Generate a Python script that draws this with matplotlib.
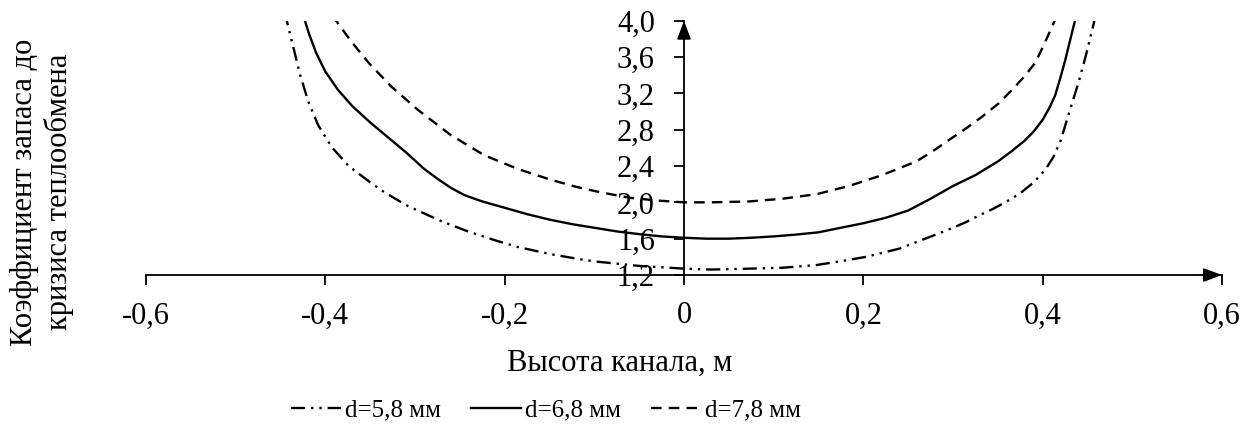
import numpy as np
import matplotlib.pyplot as plt

plt.rcParams['font.family'] = ['Liberation Serif', 'DejaVu Serif']

# d=5,8 mm
x58 = [-0.446, -0.443, -0.436, -0.428, -0.419, -0.408, -0.393, -0.374, -0.350, -0.334, -0.310,
       -0.297, -0.270, -0.241, -0.210, -0.186, -0.149, -0.120, -0.100, -0.050, 0.0, 0.030,
       0.073, 0.110, 0.148, 0.180, 0.203, 0.240, 0.277, 0.300, 0.314, 0.330, 0.345, 0.360,
       0.375, 0.390, 0.403, 0.412, 0.420, 0.429, 0.440, 0.448, 0.457, 0.459]
y58 = [4.10, 4.00, 3.72, 3.40, 3.11, 2.85, 2.61, 2.40, 2.22, 2.11, 1.97,
       1.91, 1.79, 1.68, 1.58, 1.51, 1.43, 1.38, 1.35, 1.30, 1.27, 1.26,
       1.27, 1.28, 1.31, 1.36, 1.40, 1.49, 1.63, 1.72, 1.78, 1.86, 1.93, 2.01,
       2.10, 2.22, 2.36, 2.50, 2.68, 2.97, 3.32, 3.61, 3.97, 4.10]

# d=6,8 mm
x68 = [-0.426, -0.418, -0.410, -0.400, -0.386, -0.370, -0.350, -0.327, -0.310, -0.300, -0.290,
       -0.275, -0.260, -0.245, -0.225, -0.200, -0.175, -0.150, -0.125, -0.100, -0.075, -0.050,
       -0.025, 0.0, 0.025, 0.050, 0.075, 0.100, 0.125, 0.150, 0.175, 0.200, 0.225, 0.250,
       0.275, 0.300, 0.325, 0.350, 0.365, 0.380, 0.390, 0.400, 0.408, 0.414, 0.420, 0.425,
       0.430, 0.436, 0.438]
y68 = [4.10, 3.85, 3.64, 3.44, 3.24, 3.06, 2.88, 2.69, 2.55, 2.46, 2.37,
       2.26, 2.16, 2.08, 2.01, 1.94, 1.87, 1.81, 1.76, 1.72, 1.68, 1.65,
       1.625, 1.61, 1.60, 1.60, 1.61, 1.625, 1.645, 1.67, 1.72, 1.77, 1.83, 1.91,
       2.04, 2.18, 2.30, 2.45, 2.56, 2.68, 2.78, 2.91, 3.05, 3.18, 3.38, 3.56,
       3.76, 4.00, 4.10]

# d=7,8 mm
x78 = [-0.392, -0.388, -0.371, -0.352, -0.327, -0.297, -0.260, -0.223, -0.186, -0.149, -0.120,
       -0.093, -0.060, -0.030, 0.0, 0.030, 0.073, 0.110, 0.148, 0.184, 0.221, 0.259, 0.277,
       0.296, 0.314, 0.332, 0.351, 0.366, 0.380, 0.392, 0.403, 0.413, 0.416]
y78 = [4.06, 4.00, 3.77, 3.54, 3.28, 3.02, 2.74, 2.52, 2.37, 2.25, 2.17,
       2.11, 2.05, 2.02, 2.00, 2.00, 2.01, 2.04, 2.09, 2.18, 2.30, 2.45, 2.56,
       2.69, 2.81, 2.94, 3.09, 3.24, 3.39, 3.54, 3.77, 3.99, 4.06]

xticks = [-0.6, -0.4, -0.2, 0.0, 0.2, 0.4, 0.6]
xlabels = ['-0,6', '-0,4', '-0,2', '0', '0,2', '0,4', '0,6']
yticks = [1.2, 1.6, 2.0, 2.4, 2.8, 3.2, 3.6, 4.0]
ylabels = ['1,2', '1,6', '2,0', '2,4', '2,8', '3,2', '3,6', '4,0']

fs = 22
fig = plt.figure(figsize=(12.58, 4.32), dpi=100)
ax = fig.add_axes([146/1258, 1 - 275/432, 1076/1258, (275 - 20.7)/432])

lw = 1.7
ax.plot(x58, y58, color='black', lw=lw, linestyle=(0, (6, 2.5, 1, 2.5, 1, 2.5)), label='d=5,8 мм')
ax.plot(x68, y68, color='black', lw=lw, label='d=6,8 мм')
ax.plot(x78, y78, color='black', lw=lw, linestyle=(0, (4.5, 3)), label='d=7,8 мм')

ax.set_xlim(-0.6, 0.6)
ax.set_ylim(1.2, 4.0)
ax.spines['top'].set_visible(False)
ax.spines['right'].set_visible(False)
ax.spines['left'].set_position(('data', 0))
ax.spines['left'].set_linewidth(1.3)
ax.spines['bottom'].set_linewidth(1.3)

ax.set_xticks(xticks)
ax.set_xticklabels(xlabels, fontsize=fs)
ax.set_yticks(yticks)
ax.set_yticklabels(ylabels, fontsize=fs)
ax.tick_params(axis='x', direction='out', length=7, width=1.3, pad=12)
ax.tick_params(axis='y', direction='out', length=7, width=1.3, pad=14)

# arrow heads at the axis ends
arrow = dict(arrowstyle='-|>,head_length=0.8,head_width=0.3', color='black', lw=1.3,
             mutation_scale=14, shrinkA=0, shrinkB=0)
ax.annotate('', xy=(0.5, 1), xytext=(0.5, 0.93), xycoords='axes fraction', arrowprops=arrow)
ax.annotate('', xy=(1, 0), xytext=(0.98, 0), xycoords='axes fraction', arrowprops=arrow)

fig.text(620/1258, 1 - 363/432, 'Высота канала, м', fontsize=fs, ha='center', va='center')
fig.text(42/1258, 1 - 192/432, 'Коэффициент запаса до\nкризиса теплообмена', fontsize=fs,
         rotation=90, ha='center', va='center', multialignment='center', linespacing=1.25)

fig.legend(loc='center', bbox_to_anchor=(546/1258, 1 - 410/432), ncol=3, frameon=False,
           fontsize=18, handlelength=2.0, handletextpad=0.15, columnspacing=1.2)

fig.savefig('out.png', dpi=100)
